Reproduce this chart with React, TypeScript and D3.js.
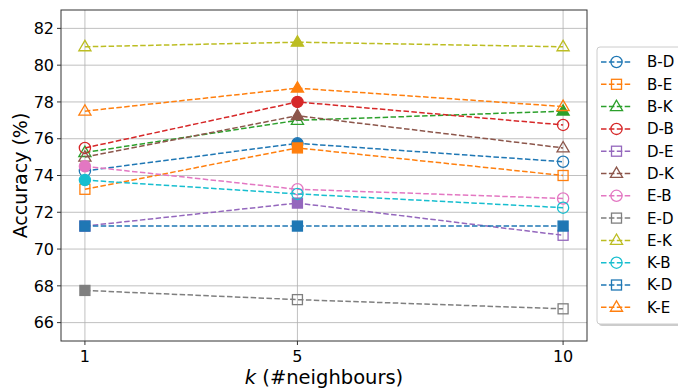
import React from "react";
import * as d3 from "d3";

// neighbourhood sizes on the x axis
const kValues = [1, 5, 10];
const yTicks = [66, 68, 70, 72, 74, 76, 78, 80, 82];

const seriesNames = ["B-D", "B-E", "B-K", "D-B", "D-E", "D-K", "E-B", "E-D", "E-K", "K-B", "K-D", "K-E"];
const seriesColors = [
  "#1f77b4", "#ff7f0e", "#2ca02c", "#d62728", "#9467bd", "#8c564b",
  "#e377c2", "#7f7f7f", "#bcbd22", "#17becf", "#1f77b4", "#ff7f0e",
];
const seriesShapes = ["circle", "square", "triangle", "circle", "square", "triangle",
  "circle", "square", "triangle", "circle", "square", "triangle"];

// accuracy (%) per series at k = 1, 5, 10
const accBD = [74.25, 75.75, 74.75];
const accBE = [73.25, 75.5, 74.0];
const accBK = [75.25, 77.0, 77.5];
const accDB = [75.5, 78.0, 76.75];
const accDE = [71.25, 72.5, 70.75];
const accDK = [75.0, 77.25, 75.5];
const accEB = [74.5, 73.25, 72.75];
const accED = [67.75, 67.25, 66.75];
const accEK = [81.0, 81.25, 81.0];
const accKB = [73.75, 73.0, 72.25];
const accKD = [71.25, 71.25, 71.25];
const accKE = [77.5, 78.75, 77.75];

const seriesValues = [accBD, accBE, accBK, accDB, accDE, accDK, accEB, accED, accEK, accKB, accKD, accKE];

const W = 678;
const H = 389;
const plot = { left: 61, right: 587, top: 10, bottom: 341 };

const x = d3.scaleLinear().domain([0.55, 10.45]).range([plot.left, plot.right]);
const y = d3.scaleLinear().domain([65, 83]).range([plot.bottom, plot.top]);

const FONT = "'DejaVu Sans', sans-serif";

function Marker({ shape, cx, cy, color, filled, size = 1 }: { shape: string; cx: number; cy: number; color: string; filled: boolean; size?: number }) {
  const fill = filled ? color : "none";
  const sw = 1.3;
  if (shape === "circle") {
    return <circle cx={cx} cy={cy} r={5.6 * size} fill={fill} stroke={color} strokeWidth={sw} />;
  }
  if (shape === "square") {
    const s = 10 * size;
    return <rect x={cx - s / 2} y={cy - s / 2} width={s} height={s} fill={fill} stroke={color} strokeWidth={sw} />;
  }
  const r = 6.4 * size;
  const pts = [
    [cx, cy - r],
    [cx - r * 0.95, cy + r * 0.62],
    [cx + r * 0.95, cy + r * 0.62],
  ];
  return <polygon points={pts.map((p) => p.join(",")).join(" ")} fill={fill} stroke={color} strokeWidth={sw} strokeLinejoin="miter" />;
}

export default function App() {
  const line = d3
    .line<number>()
    .x((_, i) => x(kValues[i]))
    .y((d) => y(d));

  const legendX = 597;
  const legendY = 47;
  const legendW = 90;
  const legendH = 277;
  const rowGap = 22.3;

  return (
    <svg width={W} height={H} style={{ position: "absolute", left: 0, top: 0 }} fontFamily={FONT}>
      <defs>
        <clipPath id="plotClip">
          <rect x={plot.left} y={plot.top} width={plot.right - plot.left} height={plot.bottom - plot.top} />
        </clipPath>
      </defs>
      <rect width={W} height={H} fill="#fff" />

      {/* grid */}
      {yTicks.map((t) => (
        <line key={"gy" + t} x1={plot.left} x2={plot.right} y1={y(t)} y2={y(t)} stroke="#b0b0b0" strokeWidth={0.8} />
      ))}
      {kValues.map((k) => (
        <line key={"gx" + k} x1={x(k)} x2={x(k)} y1={plot.top} y2={plot.bottom} stroke="#b0b0b0" strokeWidth={0.8} />
      ))}

      {/* series */}
      <g clipPath="url(#plotClip)">
        {seriesValues.map((vals, si) => {
          const maxV = d3.max(vals) as number;
          return (
            <g key={seriesNames[si]}>
              <path d={line(vals) || ""} fill="none" stroke={seriesColors[si]} strokeWidth={1.5} strokeDasharray="5.5,2.4" />
              {vals.map((v, i) => (
                <Marker key={i} shape={seriesShapes[si]} cx={x(kValues[i])} cy={y(v)} color={seriesColors[si]} filled={v === maxV} />
              ))}
            </g>
          );
        })}
      </g>

      {/* frame */}
      <rect x={plot.left} y={plot.top} width={plot.right - plot.left} height={plot.bottom - plot.top} fill="none" stroke="#333" strokeWidth={1} />

      {/* y ticks */}
      {yTicks.map((t) => (
        <g key={"ty" + t}>
          <line x1={plot.left - 4} x2={plot.left} y1={y(t)} y2={y(t)} stroke="#333" strokeWidth={1} />
          <text x={plot.left - 7} y={y(t)} dy="0.36em" textAnchor="end" fontSize={16} fill="#000">
            {t}
          </text>
        </g>
      ))}
      {/* x ticks */}
      {kValues.map((k) => (
        <g key={"tx" + k}>
          <line x1={x(k)} x2={x(k)} y1={plot.bottom} y2={plot.bottom + 4} stroke="#333" strokeWidth={1} />
          <text x={x(k)} y={plot.bottom + 21} textAnchor="middle" fontSize={16} fill="#000">
            {k}
          </text>
        </g>
      ))}

      {/* axis labels */}
      <text x={324} y={384} textAnchor="middle" fontSize={19.5} fill="#000">
        <tspan fontStyle="italic">k</tspan> (#neighbours)
      </text>
      <text transform={`translate(27,${(plot.top + plot.bottom) / 2}) rotate(-90)`} textAnchor="middle" fontSize={19} fill="#000">
        Accuracy (%)
      </text>

      {/* legend */}
      <rect x={legendX + 2} y={legendY + 2} width={legendW} height={legendH} rx={3} fill="#999" opacity={0.5} />
      <rect x={legendX} y={legendY} width={legendW} height={legendH} rx={3} fill="#fff" stroke="#ccc" strokeWidth={1} />
      {seriesNames.map((name, i) => {
        const cy = legendY + 15 + i * rowGap;
        return (
          <g key={"lg" + name}>
            <line x1={legendX + 4} x2={legendX + 35} y1={cy} y2={cy} stroke={seriesColors[i]} strokeWidth={1.5} strokeDasharray="5.5,2.4" />
            <Marker shape={seriesShapes[i]} cx={legendX + 19.5} cy={cy} color={seriesColors[i]} filled={false} />
            <text x={legendX + 50} y={cy} dy="0.36em" fontSize={15} fill="#000">
              {name}
            </text>
          </g>
        );
      })}
    </svg>
  );
}
